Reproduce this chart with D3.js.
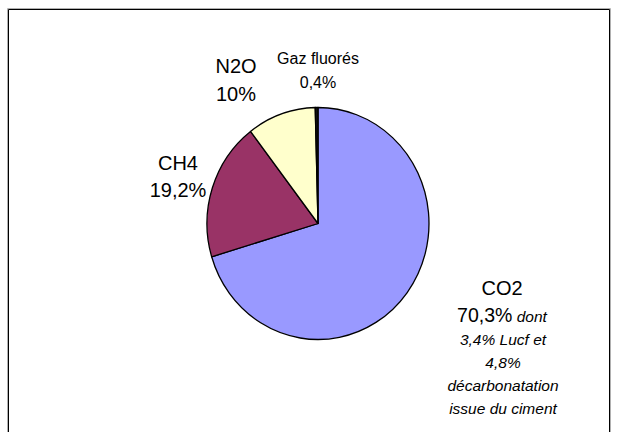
<!DOCTYPE html>
<html>
<head>
<meta charset="utf-8">
<script src="https://cdn.jsdelivr.net/npm/d3@7"></script>
<style>
  html, body { margin: 0; padding: 0; background: #fff; }
  svg { display: block; }
  text { font-family: "Liberation Sans", Arial, sans-serif; fill: #000; }
</style>
</head>
<body>
<svg id="chart" width="617" height="432"></svg>
<script>
// Greenhouse gas emissions by gas, share of total (%)
const categories = ["CO2", "CH4", "N2O", "Gaz fluorés"];
const shares = [70.3, 19.2, 10, 0.4];
// extra detail printed under the CO2 share
const co2Detail = ["dont", "3,4% Lucf et", "4,8%", "décarbonatation", "issue du ciment"];

const palette = ["#9999FF", "#993366", "#FFFFCC", "#111111"];

const svg = d3.select("#chart");
const W = 617, H = 432;

svg.append("rect").attr("width", W).attr("height", H).attr("fill", "#fff");

// chart frame (top, left, right edges)
svg.append("path")
  .attr("d", "M7.5,440V8.5H610.5V440")
  .attr("fill", "none").attr("stroke", "#b0b0b0").attr("stroke-width", 1);
svg.append("path")
  .attr("d", "M8.5,440V9.5H609.5V440")
  .attr("fill", "none").attr("stroke", "#000").attr("stroke-width", 1);

const color = d3.scaleOrdinal().domain(categories).range(palette);
const fmtPct = v => String(v).replace(".", ",") + "%";

// pie, drawn slightly taller than wide
const cx = 318, cy = 223.5, rx = 111, ry = 116;
const arcs = d3.pie().sort(null).value(d => d)(shares);
const arc = d3.arc().innerRadius(0).outerRadius(1);

const pieG = svg.append("g")
  .attr("transform", `translate(${cx},${cy}) scale(${rx},${ry})`);
pieG.selectAll("path")
  .data(arcs)
  .join("path")
  .attr("d", arc)
  .attr("fill", (d, i) => color(categories[i]))
  .attr("stroke", "#000")
  .attr("stroke-width", 1.3)
  .attr("stroke-linejoin", "round")
  .attr("vector-effect", "non-scaling-stroke");

// label placement: centre x, first baseline, line step, font size
const labelLayout = {
  "CO2":         { x: 502, y: 295, step: 27, size: 20 },
  "CH4":         { x: 178, y: 170, step: 27, size: 20 },
  "N2O":         { x: 236, y: 73,  step: 28, size: 20 },
  "Gaz fluorés": { x: 318, y: 64,  step: 24, size: 16 }
};

categories.forEach((name, i) => {
  const L = labelLayout[name];
  const t = svg.append("text")
    .attr("text-anchor", "middle")
    .attr("font-size", L.size);
  t.append("tspan").attr("x", L.x).attr("y", L.y).text(name);
  const pct = t.append("tspan").attr("x", L.x).attr("y", L.y + L.step).text(fmtPct(shares[i]));
  if (name === "CO2") {
    pct.attr("font-size", 19.5);
    t.append("tspan")
      .attr("font-size", 15.5).attr("font-style", "italic")
      .text(" " + co2Detail[0]);
  }
});

// italic note lines under the CO2 share
const noteG = svg.append("text")
  .attr("text-anchor", "middle")
  .attr("font-size", 15.5)
  .attr("font-style", "italic");
co2Detail.slice(1).forEach((line, j) => {
  noteG.append("tspan")
    .attr("x", 503)
    .attr("y", 345 + j * 23)
    .text(line);
});
</script>
</body>
</html>
